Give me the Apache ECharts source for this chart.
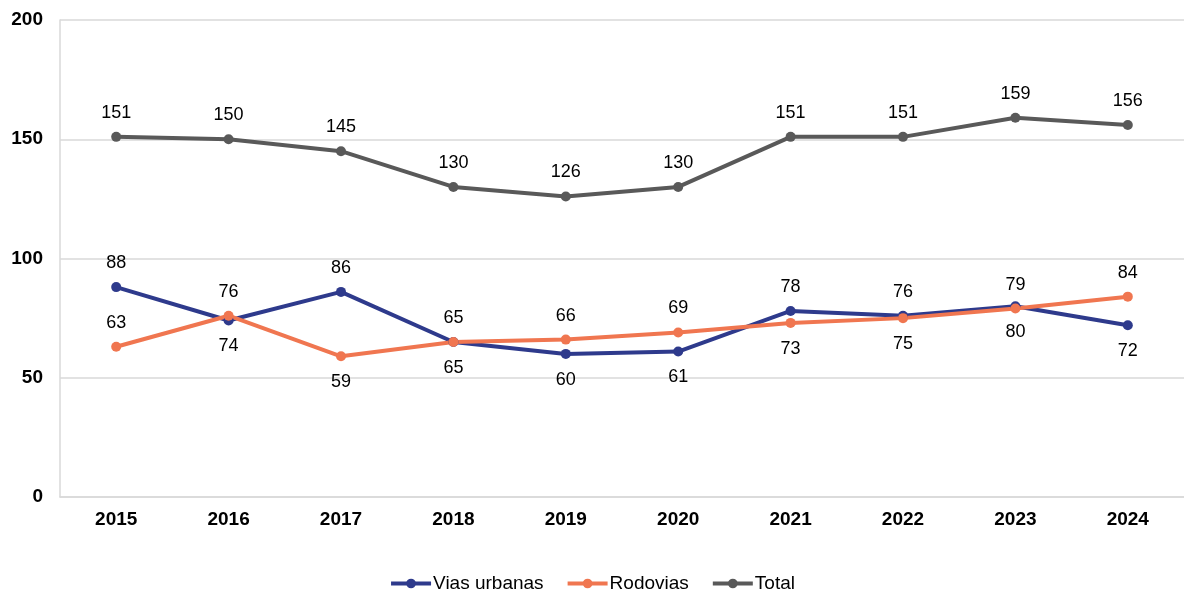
<!DOCTYPE html>
<html>
<head>
<meta charset="utf-8">
<script src="https://cdn.jsdelivr.net/npm/echarts@6/dist/echarts.min.js"></script>
<style>
  html, body { margin: 0; padding: 0; background: #ffffff; }
  #chart { width: 1184px; height: 593px; }
</style>
</head>
<body>
<div id="chart"></div>
<script>
// Categories and series values
const years = ['2015', '2016', '2017', '2018', '2019', '2020', '2021', '2022', '2023', '2024'];
const viasUrbanas = [88, 74, 86, 65, 60, 61, 78, 76, 80, 72];
const rodovias = [63, 76, 59, 65, 66, 69, 73, 75, 79, 84];
const total = [151, 150, 145, 130, 126, 130, 151, 151, 159, 156];

// Where each value label sits relative to its point
const viasLabelPos = ['top', 'bottom', 'top', 'bottom', 'bottom', 'bottom', 'top', 'top', 'bottom', 'bottom'];
const rodoviasLabelPos = ['top', 'top', 'bottom', 'top', 'top', 'top', 'bottom', 'bottom', 'top', 'top'];

const FONT = '"Liberation Sans", Arial, sans-serif';

function withLabels(values, positions) {
  return values.map((v, i) => ({
    value: v,
    label: { position: positions[i], distance: positions[i] === 'top' ? 10 : 12 }
  }));
}

function lineSeries(name, color, data) {
  return {
    name: name,
    type: 'line',
    data: data,
    symbol: 'circle',
    symbolSize: 10,
    lineStyle: { width: 4, color: color },
    itemStyle: { color: color },
    label: {
      show: true,
      position: 'top',
      distance: 10,
      color: '#000000',
      fontFamily: FONT,
      fontSize: 18
    },
    emphasis: { disabled: true },
    animation: false
  };
}

const chart = echarts.init(document.getElementById('chart'), null, { renderer: 'canvas' });

chart.setOption({
  backgroundColor: '#ffffff',
  animation: false,
  grid: { left: 60, right: 0, top: 20, bottom: 96, containLabel: false },
  legend: {
    top: 569,
    left: 'center',
    itemWidth: 40,
    itemHeight: 12,
    itemGap: 22,
    lineStyle: { width: 4 },
    textStyle: { fontFamily: FONT, fontSize: 19, color: '#000000', padding: [0, 0, 0, -3] },
    data: ['Vias urbanas', 'Rodovias', 'Total']
  },
  xAxis: {
    type: 'category',
    data: years,
    boundaryGap: true,
    axisLine: { show: true, lineStyle: { color: '#d9d9d9', width: 1.5 } },
    axisTick: { show: false },
    axisLabel: {
      color: '#000000',
      fontFamily: FONT,
      fontSize: 19,
      fontWeight: 'bold',
      margin: 13
    }
  },
  yAxis: {
    type: 'value',
    min: 0,
    max: 200,
    interval: 50,
    axisLine: { show: true, lineStyle: { color: '#d9d9d9', width: 1.5 } },
    axisTick: { show: false },
    splitLine: { show: true, lineStyle: { color: '#d9d9d9', width: 1.5 } },
    axisLabel: {
      color: '#000000',
      fontFamily: FONT,
      fontSize: 19,
      fontWeight: 'bold',
      margin: 17
    }
  },
  series: [
    lineSeries('Vias urbanas', '#2e3a8c', withLabels(viasUrbanas, viasLabelPos)),
    lineSeries('Rodovias', '#f07650', withLabels(rodovias, rodoviasLabelPos)),
    lineSeries('Total', '#595959', total)
  ]
});
</script>
</body>
</html>
